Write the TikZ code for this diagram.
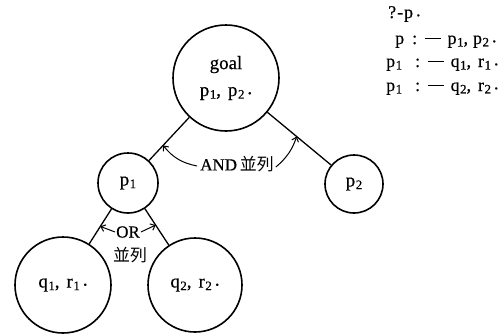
\documentclass[tikz,border=0pt]{standalone}
\usepackage{fontspec}
\setmainfont{Liberation Serif}[FakeBold=0.5]
\newfontfamily\jfont{Noto Sans CJK JP}
\usetikzlibrary{arrows.meta}

% lowered subscript digit, spaced comma, raised full stop, and the ":-" sign
\newcommand\lsub[1]{\kern0.5bp\raisebox{-0.3ex}{\fontsize{13}{13}\selectfont #1}}
\newcommand\csep{,\hspace{7bp}}
\newcommand\fstop{\hspace{3bp}\raisebox{0.1em}{.}}
\newcommand\neck{:\hspace{7.5bp}\rule[0.3em]{16bp}{0.9bp}\hspace{7bp}}

\tikzset{
  term/.style={circle, draw, line width=1.6bp, inner sep=0pt, align=center,
    font=\fontsize{19}{28}\selectfont},
  link/.style={line width=1.3bp},
  pointer/.style={line width=1bp, -{Straight Barb[length=4bp,width=7bp,line width=1bp]}},
  tag/.style={inner sep=1bp, font=\fontsize{17}{20}\selectfont},
  clause/.style={anchor=base west, inner sep=0pt, font=\fontsize{18}{20}\selectfont}
}

\begin{document}
\begin{tikzpicture}[x=1bp, y=-1bp]
  \useasboundingbox (0,0) rectangle (498,334);

  % goal tree
  \node[term, minimum size=106bp] (goal) at (226,78) {goal\\[-1bp] p\lsub{1}\csep p\lsub{2}\fstop};
  \node[term, minimum size=60bp] (p1) at (128,183) {p\lsub{1}};
  \node[term, minimum size=58bp] (p2) at (354,184) {p\lsub{2}};
  \node[term, minimum size=96bp] (q1) at (63,285) {q\lsub{1}\csep r\lsub{1}\fstop};
  \node[term, minimum size=94bp] (q2) at (195,285) {q\lsub{2}\csep r\lsub{2}\fstop};

  \draw[link] (goal) -- (p1) coordinate[pos=0.65] (andL);
  \draw[link] (goal) -- (p2) coordinate[pos=0.46] (andR);
  \draw[link] (p1) -- (q1) coordinate[pos=0.5] (orL);
  \draw[link] (p1) -- (q2) coordinate[pos=0.45] (orR);

  % parallelism labels
  \node[tag] (andtag) at (237,164) {AND\,{\jfont 並列}};
  \draw[pointer] ([xshift=-2bp,yshift=-2bp]andtag.west) to[bend left=20] (andL);
  \draw[pointer] ([xshift=1bp,yshift=-3bp]andtag.east) to[bend right=15] (andR);

  \node[tag] (ortag) at (128,232) {OR};
  \node[tag] (orpar) at (130,255) {\jfont 並列};
  \draw[pointer] (ortag.west) -- (orL);
  \draw[pointer] (ortag.east) -- (orR);

  % program clauses
  \node[clause] (c0) at (388,18) {?\hspace{1bp}-\hspace{1bp}p\fstop};
  \node[clause] (c1) at (395,44) {p\hspace{8bp}\neck p\lsub{1},\hspace{5bp}p\lsub{2}\fstop};
  \node[clause] (c2) at (386,67) {p\lsub{1}\hspace{13bp}\neck q\lsub{1}\csep r\lsub{1}\fstop};
  \node[clause] (c3) at (386,91) {p\lsub{1}\hspace{13bp}\neck q\lsub{2}\csep r\lsub{2}\fstop};
\end{tikzpicture}
\end{document}
